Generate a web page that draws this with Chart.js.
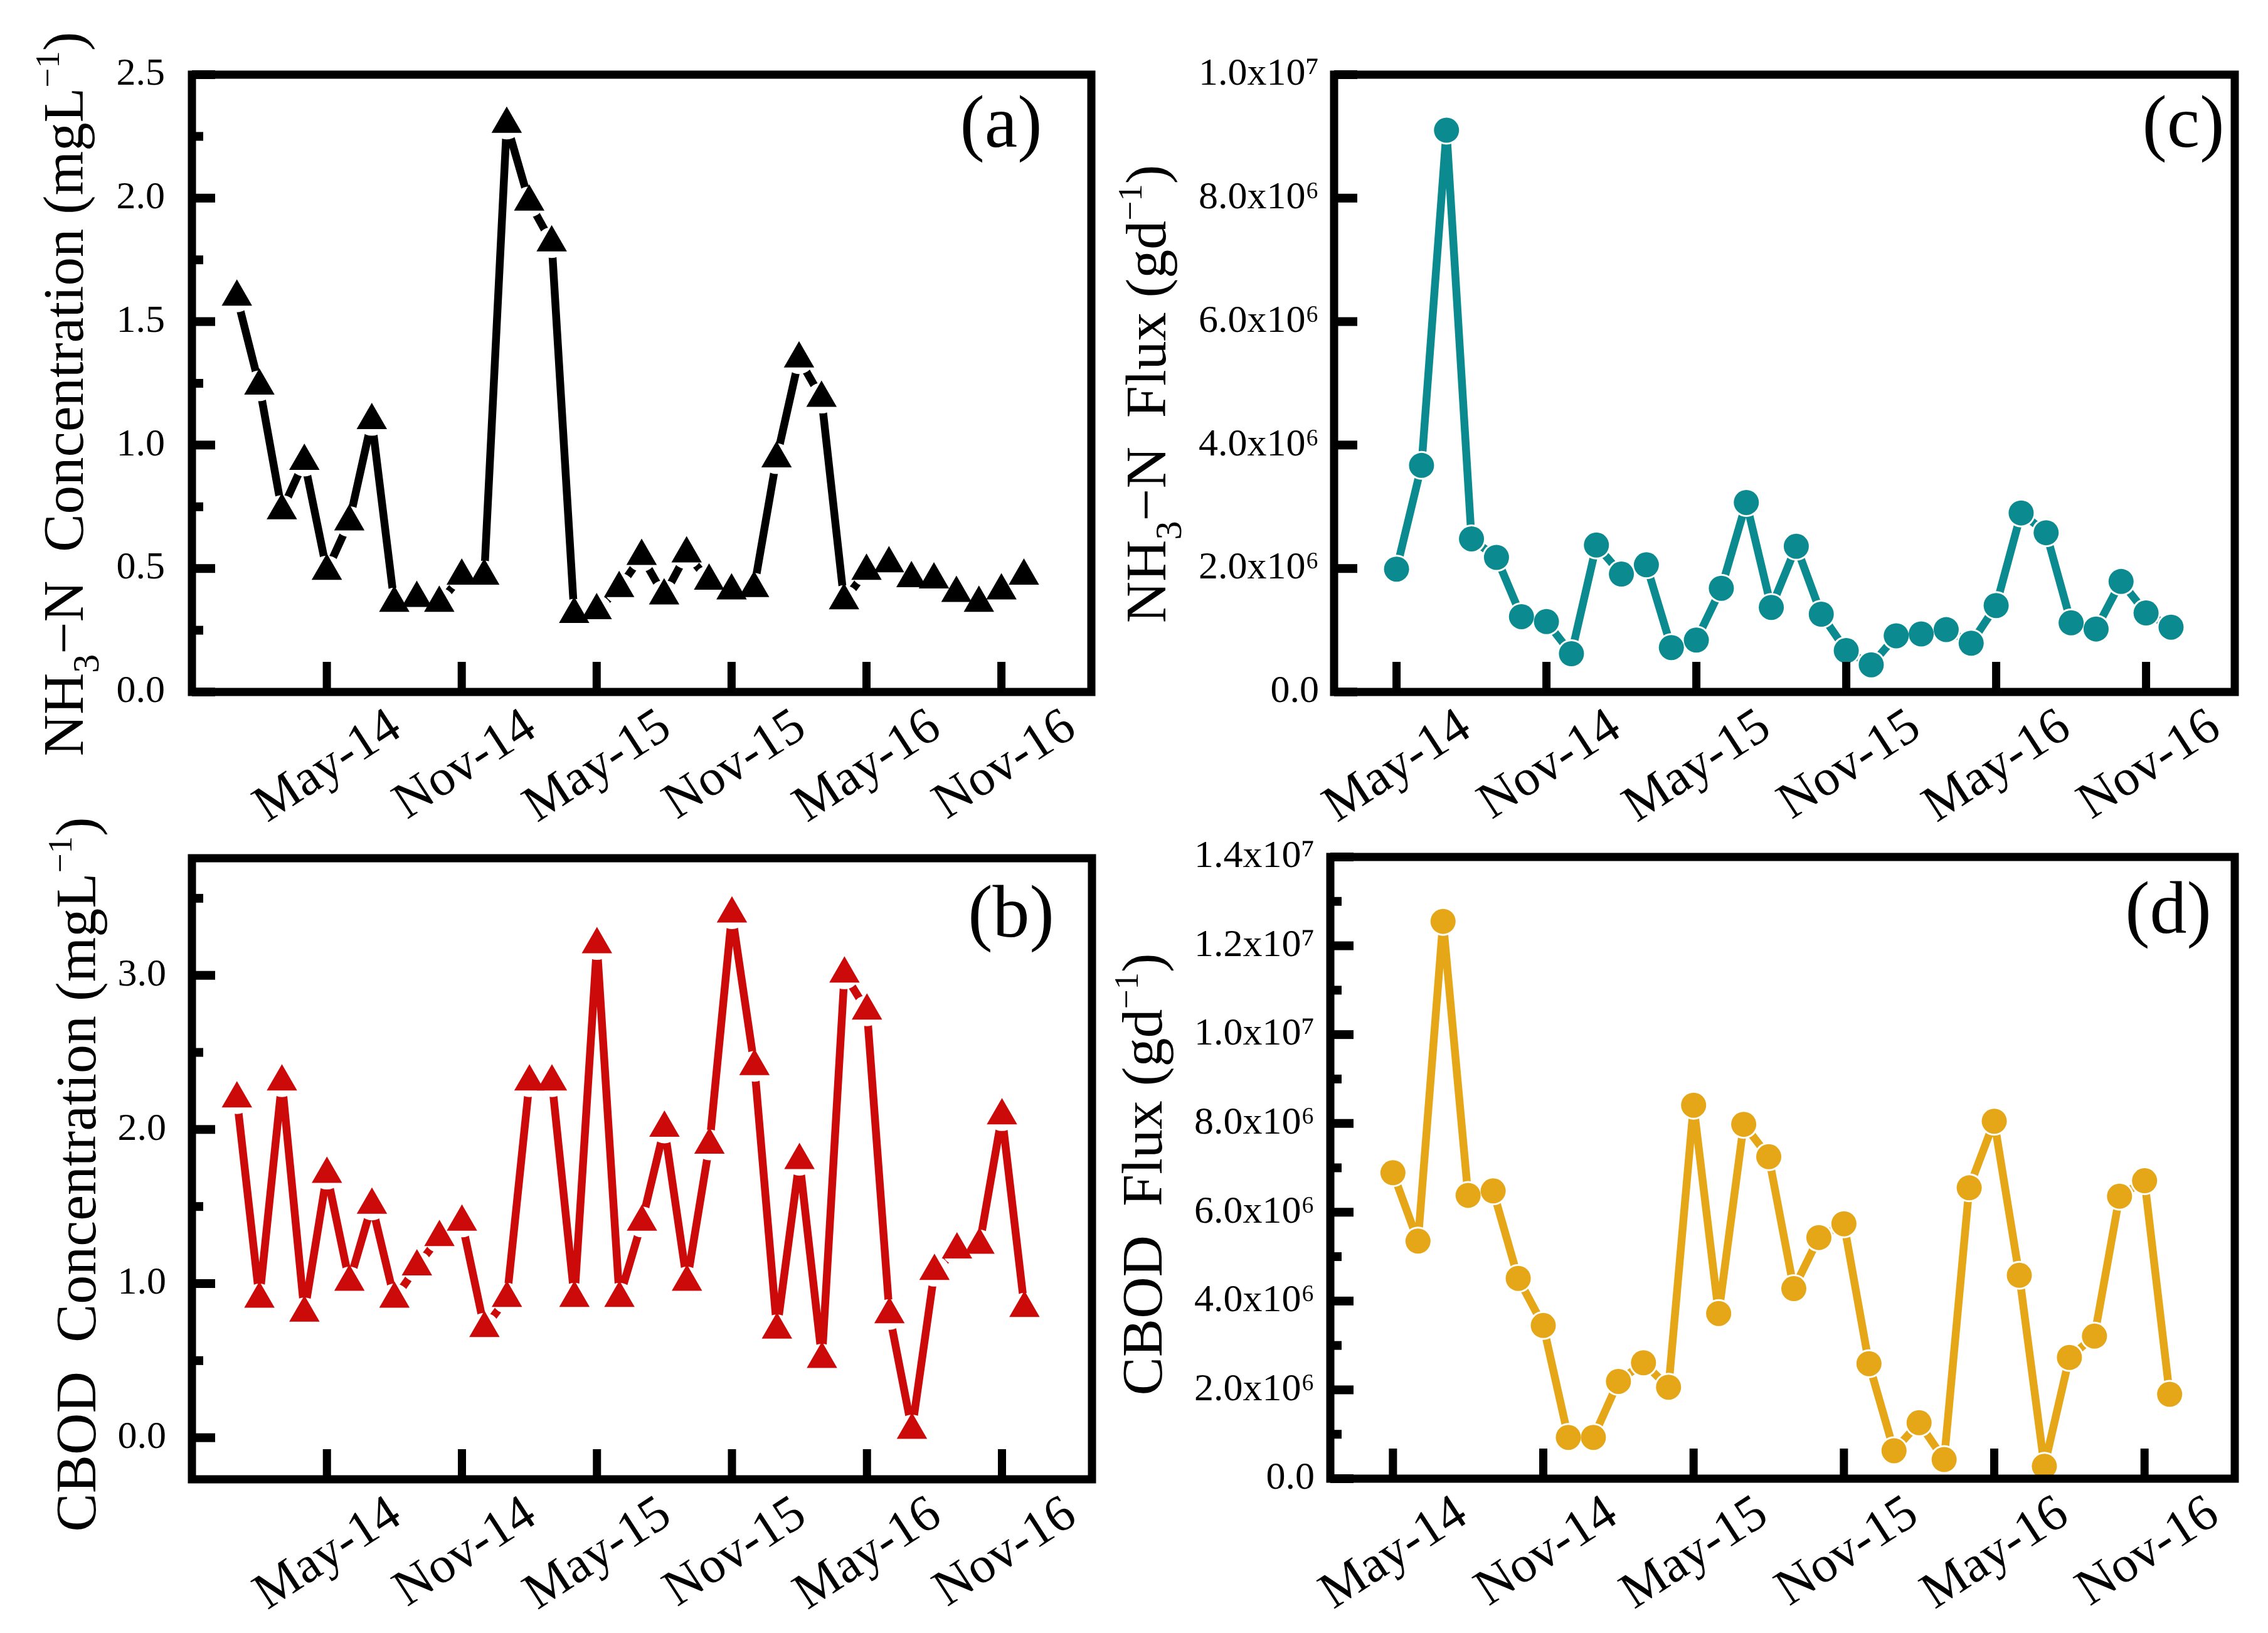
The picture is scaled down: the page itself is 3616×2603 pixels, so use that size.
<!DOCTYPE html>
<html>
<head>
<meta charset="utf-8">
<script src="https://cdn.jsdelivr.net/npm/chart.js@4.4.0/dist/chart.umd.min.js"></script>
<style>
html,body{margin:0;padding:0;background:#ffffff;width:3616px;height:2603px;overflow:hidden}
canvas{position:absolute;left:0;top:0}
</style>
</head>
<body>
<canvas id="chartA" width="3616" height="2603"></canvas>
<canvas id="chartB" width="3616" height="2603"></canvas>
<canvas id="chartC" width="3616" height="2603"></canvas>
<canvas id="chartD" width="3616" height="2603"></canvas>
<script>
// ---------------- DATA ----------------
// month index: 0 = Jan-14 ... 35 = Dec-16
const months = ['Jan-14','Feb-14','Mar-14','Apr-14','May-14','Jun-14','Jul-14','Aug-14','Sep-14','Oct-14','Nov-14','Dec-14',
                'Jan-15','Feb-15','Mar-15','Apr-15','May-15','Jun-15','Jul-15','Aug-15','Sep-15','Oct-15','Nov-15','Dec-15',
                'Jan-16','Feb-16','Mar-16','Apr-16','May-16','Jun-16','Jul-16','Aug-16','Sep-16','Oct-16','Nov-16','Dec-16'];
const xTickPositions = [4, 10, 16, 22, 28, 34];
const xTickLabels = ['May-14','Nov-14','May-15','Nov-15','May-16','Nov-16'];

// concentrations start Jan-14, fluxes start May-14
const concStartMonth = 0;
const fluxStartMonth = 4;

// (a) NH3-N concentration (mg/L)
const nh3Conc = [1.60, 1.24, 0.735, 0.935, 0.49, 0.69, 1.10, 0.36, 0.38, 0.36, 0.47, 0.47,
                 2.30, 1.985, 1.82, 0.315, 0.33, 0.42, 0.55, 0.39, 0.56, 0.45, 0.41, 0.42,
                 0.945, 1.35, 1.19, 0.37, 0.49, 0.52, 0.46, 0.455, 0.40, 0.36, 0.41, 0.47];
// (b) CBOD concentration (mg/L)
const cbodConc = [2.20, 0.90, 2.31, 0.81, 1.71, 1.01, 1.51, 0.90, 1.11, 1.30, 1.40, 0.71,
                  0.905, 2.31, 2.31, 0.905, 3.20, 0.905, 1.40, 2.01, 1.01, 1.90, 3.40, 2.41,
                  0.70, 1.80, 0.51, 3.01, 2.77, 0.80, 0.05, 1.08, 1.22, 1.25, 2.09, 0.84];
// (c) NH3-N flux (g/d)
const nh3Flux = [1.99e6, 3.67e6, 9.10e6, 2.48e6, 2.18e6, 1.22e6, 1.14e6, 0.62e6,
                 2.38e6, 1.91e6, 2.06e6, 0.72e6, 0.84e6, 1.68e6, 3.07e6, 1.37e6,
                 2.36e6, 1.26e6, 0.67e6, 0.44e6, 0.91e6, 0.94e6, 1.01e6, 0.79e6,
                 1.40e6, 2.90e6, 2.58e6, 1.12e6, 1.02e6, 1.79e6, 1.28e6, 1.05e6];
// (d) CBOD flux (g/d)
const cbodFlux = [6.89e6, 5.35e6, 12.55e6, 6.38e6, 6.48e6, 4.51e6, 3.45e6, 0.93e6,
                  0.93e6, 2.19e6, 2.61e6, 2.06e6, 8.41e6, 3.72e6, 7.98e6, 7.25e6,
                  4.28e6, 5.43e6, 5.74e6, 2.59e6, 0.63e6, 1.26e6, 0.43e6, 6.55e6,
                  8.05e6, 4.58e6, 0.28e6, 2.73e6, 3.21e6, 6.36e6, 6.71e6, 1.90e6];

// y tick values and labels
const yTicksA = [0, 0.5, 1.0, 1.5, 2.0, 2.5];
const yTickLabelsA = ['0.0','0.5','1.0','1.5','2.0','2.5'];
const yMinorA = [0.25, 0.75, 1.25, 1.75, 2.25];

const yTicksB = [0, 1, 2, 3];
const yTickLabelsB = ['0.0','1.0','2.0','3.0'];
const yMinorB = [0.5, 1.5, 2.5, 3.5];

const yTicksC = [0, 2e6, 4e6, 6e6, 8e6, 1e7];
const yTickLabelsC = ['0.0','2.0x10\u2076','4.0x10\u2076','6.0x10\u2076','8.0x10\u2076','1.0x10\u2077'];
const yMinorC = [];

const yTicksD = [0, 2e6, 4e6, 6e6, 8e6, 1e7, 1.2e7, 1.4e7];
const yTickLabelsD = ['0.0','2.0x10\u2076','4.0x10\u2076','6.0x10\u2076','8.0x10\u2076','1.0x10\u2077','1.2x10\u2077','1.4x10\u2077'];
const yMinorD = [1e6, 3e6, 5e6, 7e6, 9e6, 1.1e7, 1.3e7];

// ---------------- RENDERING ----------------
const FONT = '"Liberation Serif", "Times New Roman", serif';
Chart.defaults.font.family = FONT;
Chart.defaults.color = '#000';

const PAGE_W = 3616, PAGE_H = 2603;
const X_AXIS_H = 260;

function drawTitle(ctx, parts, bx, cy) {
  ctx.save();
  ctx.translate(bx, cy);
  ctx.rotate(-Math.PI / 2);
  ctx.textBaseline = 'alphabetic';
  ctx.textAlign = 'left';
  ctx.fillStyle = '#000';
  let total = 0;
  for (const p of parts) { ctx.font = p[1] + 'px ' + FONT; total += ctx.measureText(p[0]).width; }
  let x = -total / 2;
  for (const p of parts) {
    ctx.font = p[1] + 'px ' + FONT;
    ctx.fillText(p[0], x, p[2]);
    x += ctx.measureText(p[0]).width;
  }
  ctx.restore();
}

const framePlugin = {
  id: 'frame',
  afterDraw(chart, args, o) {
    const ctx = chart.ctx, a = chart.chartArea, sx = chart.scales.x, sy = chart.scales.y;
    ctx.save();
    ctx.fillStyle = '#000';
    for (const v of xTickPositions) {
      const px = sx.getPixelForValue(v);
      ctx.fillRect(px - 6.5, a.bottom - 48, 13, 48);
    }
    for (const v of o.yMajor) {
      const py = sy.getPixelForValue(v);
      ctx.fillRect(a.left, py - 7, 37, 14);
    }
    for (const v of o.yMinor) {
      const py = sy.getPixelForValue(v);
      ctx.fillRect(a.left, py - 7, 18, 14);
    }
    ctx.lineWidth = 13;
    ctx.strokeStyle = '#000';
    ctx.lineJoin = 'miter';
    ctx.strokeRect(a.left, a.top, a.right - a.left, a.bottom - a.top);
    ctx.font = '118px ' + FONT;
    ctx.textAlign = 'center';
    ctx.textBaseline = 'middle';
    ctx.fillText(o.letter, o.letterX, o.letterY);
    drawTitle(ctx, o.title, o.titleX, o.titleY);
    ctx.restore();
  }
};

function makePanel(id, p) {
  const pts = p.values.map((v, i) => ({ x: p.start + i, y: v }));
  const yAll = p.yMajor.concat(p.yMinor).sort((m, n) => m - n);
  return new Chart(document.getElementById(id), {
    type: 'line',
    data: {
      datasets: [
        { data: pts, borderColor: p.color, borderWidth: 12.5, pointRadius: 0, pointHoverRadius: 0,
          borderCapStyle: 'round', borderJoinStyle: 'round', tension: 0, fill: false, order: 3 },
        { data: pts, showLine: false, pointStyle: 'circle', pointRadius: p.halo, pointHoverRadius: p.halo,
          pointBackgroundColor: '#ffffff', pointBorderWidth: 0, order: 2 },
        { data: pts, showLine: false, pointStyle: p.marker, pointRadius: p.r, pointHoverRadius: p.r,
          pointBackgroundColor: p.color, pointBorderWidth: 0, order: 1 }
      ]
    },
    options: {
      responsive: false,
      animation: false,
      devicePixelRatio: 1,
      events: [],
      layout: { padding: { left: 0, top: p.area.t, right: PAGE_W - p.area.r, bottom: PAGE_H - p.area.b - X_AXIS_H } },
      plugins: {
        legend: { display: false },
        tooltip: { enabled: false },
        frame: { yMajor: p.yMajor, yMinor: p.yMinor, letter: p.letter, letterX: p.letterX, letterY: p.letterY,
                 title: p.title, titleX: p.titleX, titleY: p.titleY }
      },
      scales: {
        x: {
          type: 'linear', position: 'bottom', min: p.xMin, max: p.xMax, bounds: 'data',
          grid: { display: false, drawTicks: false }, border: { display: false },
          afterBuildTicks: s => { s.ticks = xTickPositions.map(v => ({ value: v })); },
          afterFit: s => { s.height = X_AXIS_H; },
          ticks: {
            autoSkip: false, minRotation: 33, maxRotation: 33, padding: 8, labelOffset: 111,
            font: { size: 82, family: FONT }, color: '#000',
            callback: (v, i) => xTickLabels[i]
          }
        },
        y: {
          type: 'linear', position: 'left', min: p.yMin, max: p.yMax, bounds: 'data',
          grid: { display: false, drawTicks: false }, border: { display: false },
          afterBuildTicks: s => { s.ticks = yAll.map(v => ({ value: v })); },
          afterFit: s => { s.width = p.area.l; },
          ticks: {
            autoSkip: false, padding: p.yPad,
            font: { size: 62, family: FONT }, color: '#000',
            callback: (v) => { const k = p.yMajor.indexOf(v); return k >= 0 ? p.yLabels[k] : ''; }
          }
        }
      }
    },
    plugins: [framePlugin]
  });
}

makePanel('chartA', {
  values: nh3Conc, start: concStartMonth, color: '#000000', marker: 'triangle', r: 28, halo: 24.5,
  area: { l: 306, t: 119, r: 1740, b: 1103 }, xMin: -2, xMax: 38, yMin: 0, yMax: 2.5,
  yMajor: yTicksA, yLabels: yTickLabelsA, yMinor: yMinorA, yPad: 43,
  letter: '(a)', letterX: 1596, letterY: 203,
  title: [['NH', 92, 0], ['3', 60, 25], ['\u2212N  Concentration (mgL', 91, 0], ['\u22121', 55, -38], [')', 92, 0]],
  titleX: 132, titleY: 628
});
makePanel('chartB', {
  values: cbodConc, start: concStartMonth, color: '#CC0A0A', marker: 'triangle', r: 28, halo: 24.5,
  area: { l: 306, t: 1368, r: 1741, b: 2358 }, xMin: -2, xMax: 38, yMin: -0.27, yMax: 3.76,
  yMajor: yTicksB, yLabels: yTickLabelsB, yMinor: yMinorB, yPad: 41,
  letter: '(b)', letterX: 1612, letterY: 1462,
  title: [['CBOD  Concentration (mgL', 92, 0], ['\u22121', 55, -38], [')', 92, 0]],
  titleX: 152, titleY: 1872
});
makePanel('chartC', {
  values: nh3Flux, start: fluxStartMonth, color: '#0B8B8F', marker: 'circle', r: 20, halo: 23,
  area: { l: 2127, t: 119, r: 3563, b: 1103 }, xMin: 1.5, xMax: 37.55, yMin: 0, yMax: 1e7,
  yMajor: yTicksC, yLabels: yTickLabelsC, yMinor: yMinorC, yPad: 24,
  letter: '(c)', letterX: 3481, letterY: 203,
  title: [['NH', 92, 0], ['3', 60, 25], ['\u2212N  Flux (gd', 92, 0], ['\u22121', 55, -38], [')', 92, 0]],
  titleX: 1858, titleY: 628
});
makePanel('chartD', {
  values: cbodFlux, start: fluxStartMonth, color: '#E5A617', marker: 'circle', r: 20, halo: 23,
  area: { l: 2121, t: 1366, r: 3563, b: 2357 }, xMin: 1.5, xMax: 37.6, yMin: 0, yMax: 1.4e7,
  yMajor: yTicksD, yLabels: yTickLabelsD, yMinor: yMinorD, yPad: 25,
  letter: '(d)', letterX: 3457, letterY: 1456,
  title: [['CBOD  Flux (gd', 92, 0], ['\u22121', 55, -38], [')', 92, 0]],
  titleX: 1852, titleY: 1872
});
</script>
</body>
</html>
